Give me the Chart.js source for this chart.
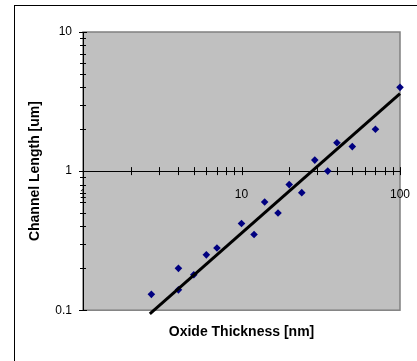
<!DOCTYPE html>
<html>
<head>
<meta charset="utf-8">
<script src="https://cdn.jsdelivr.net/npm/chart.js@4"></script>
<style>
  html, body { margin: 0; padding: 0; background: #fff; }
  #wrap { width: 417px; height: 361px; }
</style>
</head>
<body>
<div id="wrap"><canvas id="chart" width="417" height="361"></canvas></div>
<script>
'use strict';

// ─── Data ─────────────────────────────────────────────────────────────────────
const oxideThickness = [2.7, 4, 4, 5, 6, 7, 10, 12, 14, 17, 20, 24, 29, 35, 40, 50, 70, 100];
const channelLength  = [0.13, 0.2, 0.14, 0.18, 0.25, 0.28, 0.42, 0.35, 0.6, 0.5, 0.8, 0.7, 1.2, 1.0, 1.6, 1.5, 2.0, 4.0];

// power-law trend line end points
const trendX = [2.64, 100];
const trendY = [0.094, 3.6];

// axis ticks
const xTicks = [1, 2, 3, 4, 5, 6, 7, 8, 9, 10, 20, 30, 40, 50, 60, 70, 80, 90, 100];
const xMajor = [1, 10, 100];
const yTicks = [0.1, 0.2, 0.3, 0.4, 0.5, 0.6, 0.7, 0.8, 0.9, 1, 2, 3, 4, 5, 6, 7, 8, 9, 10];
const yMajor = [0.1, 1, 10];

const FONT = "'Liberation Sans', Arial, sans-serif";

// ─── Plot area + frame + crossing tick marks ─────────────────────────────────
const excelLook = {
  id: 'excelLook',
  beforeDraw(chart) {
    const { ctx, chartArea: a } = chart;
    ctx.save();
    // outer chart frame (only top and left edges are inside the picture)
    ctx.strokeStyle = '#000';
    ctx.lineWidth = 1;
    ctx.strokeRect(14.5, 5.5, 600, 600);
    // plot area
    ctx.fillStyle = '#c0c0c0';
    ctx.fillRect(a.left, a.top, a.right - a.left, a.bottom - a.top);
    ctx.strokeStyle = '#808080';
    ctx.lineWidth = 1.5;
    ctx.strokeRect(a.left, a.top, a.right - a.left, a.bottom - a.top);
    ctx.restore();
  },
  afterDraw(chart) {
    const { ctx, chartArea: a } = chart;
    const xs = chart.scales.x, ys = chart.scales.y;
    const yAxisPix = ys.getPixelForValue(1);
    ctx.save();
    ctx.strokeStyle = '#000';
    ctx.lineWidth = 1;
    ctx.beginPath();
    xTicks.forEach(v => {
      const px = Math.round(xs.getPixelForValue(v)) + 0.5;
      ctx.moveTo(px, yAxisPix - 4);
      ctx.lineTo(px, yAxisPix + 4);
    });
    yTicks.forEach(v => {
      const py = Math.round(ys.getPixelForValue(v)) + 0.5;
      const major = yMajor.includes(v);
      ctx.moveTo(a.left - (major ? 4 : 3), py);
      ctx.lineTo(a.left + (major ? 4 : 3), py);
    });
    ctx.stroke();
    ctx.restore();
  }
};

new Chart(document.getElementById('chart'), {
  type: 'scatter',
  data: {
    datasets: [
      {
        label: 'Trend',
        data: trendX.map((x, i) => ({ x, y: trendY[i] })),
        showLine: true,
        borderColor: '#000',
        borderWidth: 3,
        pointRadius: 0,
        clip: false,
        order: 0,
      },
      {
        label: 'Channel Length',
        data: oxideThickness.map((x, i) => ({ x, y: channelLength[i] })),
        pointStyle: 'rectRot',
        pointRadius: 3.8,
        backgroundColor: '#000080',
        borderColor: '#000080',
        borderWidth: 0,
        clip: false,
        order: 1,
      }
    ]
  },
  options: {
    responsive: false,
    animation: false,
    layout: { padding: { top: 32, right: 17, left: 0, bottom: 0 } },
    plugins: {
      legend: { display: false },
      tooltip: { enabled: false },
      title: {
        display: true,
        fullSize: false,
        position: 'bottom',
        text: 'Oxide Thickness [nm]',
        color: '#000',
        font: { family: FONT, size: 14, weight: 'bold' },
        padding: { top: 14, bottom: 20 },
      }
    },
    scales: {
      x: {
        type: 'logarithmic',
        min: 1, max: 100,
        position: { y: 1 },
        afterBuildTicks: s => { s.ticks = xTicks.map(v => ({ value: v })); },
        afterFit: s => { s.paddingLeft = 0; s.paddingRight = 0; },
        ticks: {
          autoSkip: false,
          maxRotation: 0,
          padding: 16,
          color: '#000',
          font: { family: FONT, size: 12 },
          callback: v => xMajor.includes(v) ? String(v) : '',
        },
        grid: { display: false, drawTicks: false },
        border: { display: true, color: '#000', width: 1 },
      },
      y: {
        type: 'logarithmic',
        min: 0.1, max: 10,
        z: -1,
        afterBuildTicks: s => { s.ticks = yTicks.map(v => ({ value: v })); },
        afterFit: s => { s.width = 83; },
        ticks: {
          autoSkip: false,
          padding: 11,
          color: '#000',
          font: { family: FONT, size: 12 },
          callback: v => yMajor.includes(v) ? String(v) : '',
        },
        grid: { display: false, drawTicks: false },
        border: { display: true, color: '#000', width: 1 },
        title: {
          display: true,
          text: 'Channel Length [um]',
          color: '#000',
          font: { family: FONT, size: 14, weight: 'bold' },
          padding: { top: 27, bottom: 0 },
        }
      }
    }
  },
  plugins: [excelLook]
});
</script>
</body>
</html>
